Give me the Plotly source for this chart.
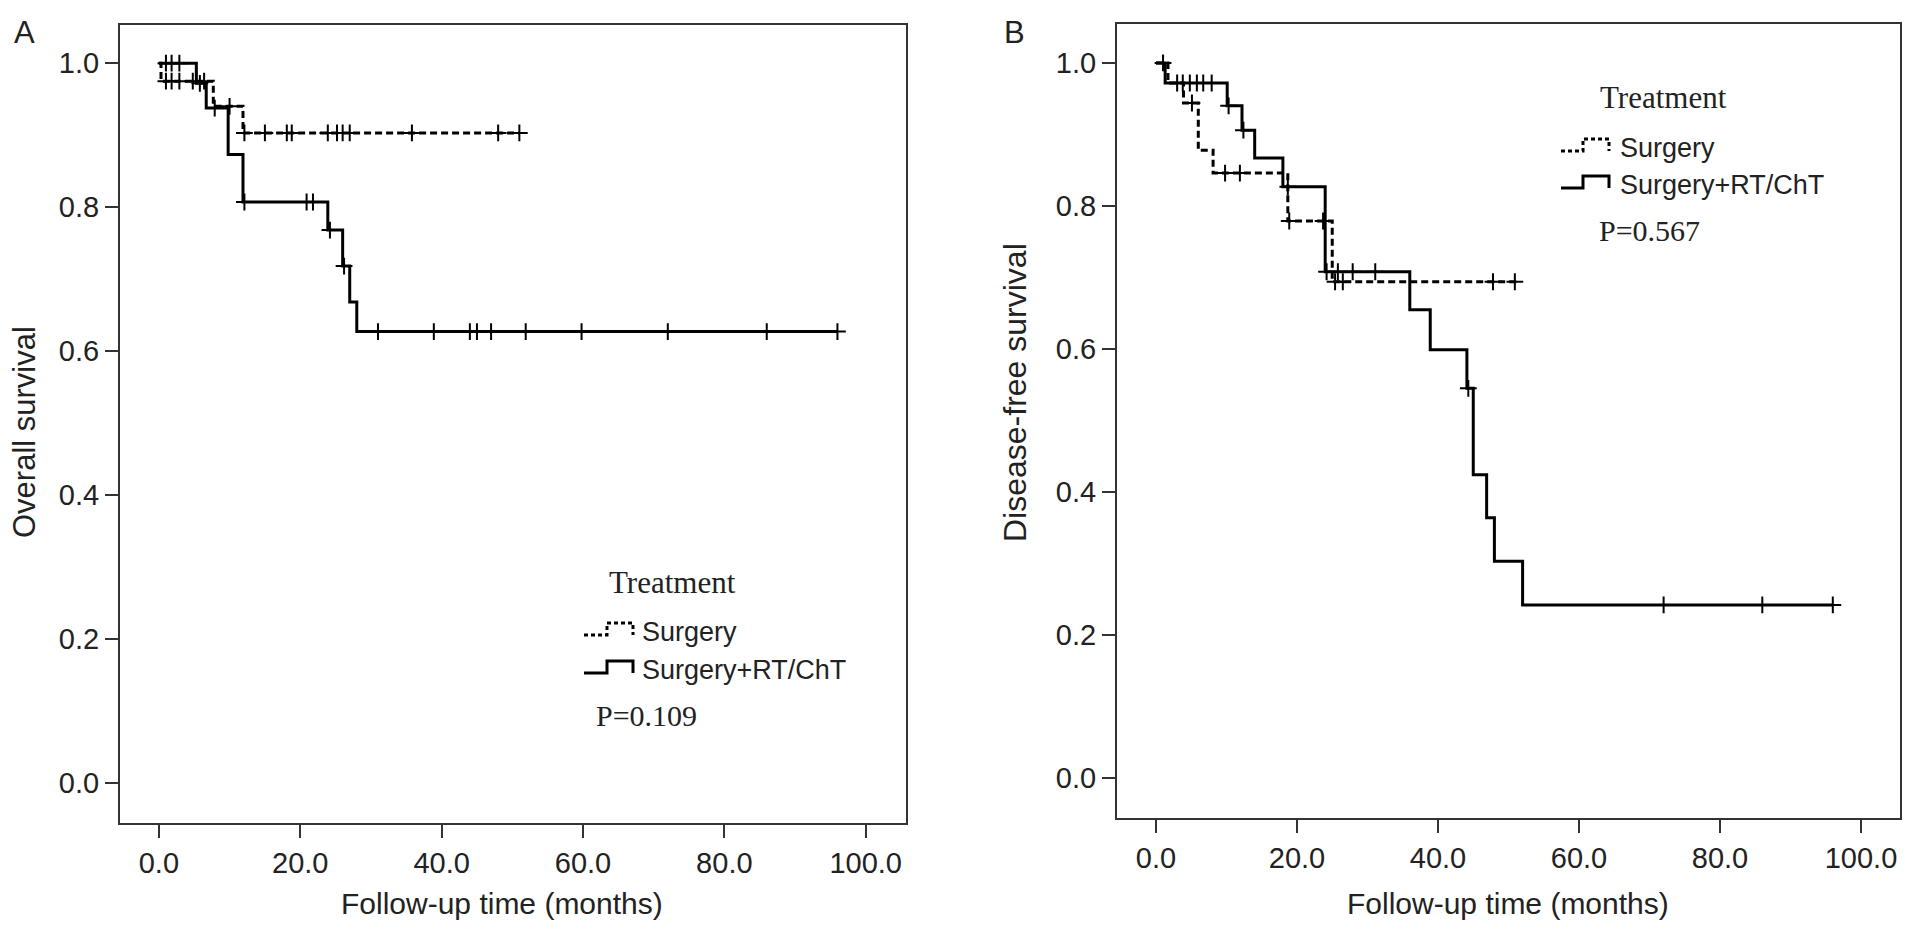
import plotly.graph_objects as go

W, H = 1913, 933

# ---- Panel A: overall survival (months, survival after each event) ----
a_surg_times = [0.3, 7.7, 11.9]
a_surg_surv = [0.975, 0.940, 0.903]
a_surg_cens = [1.0, 1.8, 2.9, 4.8, 6.4, 10.0, 12.1, 15.0, 18.1, 18.8,
               23.9, 25.2, 26.0, 27.0, 35.8, 48.0, 51.0]
a_surg_end = 51.0

a_rt_times = [5.3, 6.7, 9.8, 11.9, 23.9, 26.0, 27.0, 28.0]
a_rt_surv = [0.972, 0.9375, 0.873, 0.807, 0.768, 0.718, 0.668, 0.627]
a_rt_cens = [1.0, 1.8, 2.9, 5.8, 7.9, 12.1, 20.9, 21.8, 24.2, 26.2, 31.0,
             38.9, 44.0, 45.0, 47.0, 51.9, 59.8, 72.0, 86.0, 96.0]
a_rt_end = 96.0

# ---- Panel B: disease-free survival ----
b_surg_times = [1.7, 3.9, 6.0, 8.1, 18.7, 25.0]
b_surg_surv = [0.972, 0.944, 0.878, 0.846, 0.779, 0.694]
b_surg_cens = [1.0, 5.1, 9.8, 11.9, 18.9, 23.7, 25.4, 26.5, 47.8, 50.9]
b_surg_end = 51.6

b_rt_times = [1.3, 10.1, 12.2, 14.0, 18.0, 24.0, 36.0, 38.9, 44.1, 45.0,
              46.9, 48.0, 52.0]
b_rt_surv = [0.972, 0.940, 0.906, 0.867, 0.827, 0.708, 0.655, 0.599, 0.545,
             0.424, 0.364, 0.303, 0.242]
b_rt_cens = [3.0, 3.8, 4.8, 5.8, 6.7, 7.9, 10.3, 12.4, 18.7, 24.2, 25.8,
             27.9, 31.1, 44.3, 72.0, 86.0, 96.0]
b_rt_end = 96.0

x_ticks = [0, 20, 40, 60, 80, 100]
y_ticks = [0.0, 0.2, 0.4, 0.6, 0.8, 1.0]

INK = "#222222"
SANS = "Liberation Sans, Arial, sans-serif"
SERIF = "Liberation Serif, Times New Roman, serif"


def px(x):
    return x / W


def py(y):
    return 1 - y / H


def level_at(t, times, surv):
    s = 1.0
    for ti, si in zip(times, surv):
        if ti <= t:
            s = si
    return s


def km_traces(times, surv, cens, end, dash, xa, ya):
    xs = [0] + times + [end]
    ys = [1.0] + surv + [surv[-1]]
    line = go.Scatter(x=xs, y=ys, mode="lines", line_shape="hv",
                      line=dict(color="black", width=3, dash=dash),
                      xaxis=xa, yaxis=ya, showlegend=False, hoverinfo="skip")
    marks = go.Scatter(x=cens, y=[level_at(c, times, surv) for c in cens],
                       mode="markers",
                       marker=dict(symbol="cross-thin", size=12,
                                   line=dict(color="black", width=2)),
                       xaxis=xa, yaxis=ya, showlegend=False, hoverinfo="skip")
    return [line, marks]


fig = go.Figure()
for tr in (km_traces(a_surg_times, a_surg_surv, a_surg_cens, a_surg_end, "7px,4px", "x", "y")
           + km_traces(a_rt_times, a_rt_surv, a_rt_cens, a_rt_end, "solid", "x", "y")
           + km_traces(b_surg_times, b_surg_surv, b_surg_cens, b_surg_end, "7px,4px", "x2", "y2")
           + km_traces(b_rt_times, b_rt_surv, b_rt_cens, b_rt_end, "solid", "x2", "y2")):
    fig.add_trace(tr)

ax_common = dict(showline=True, mirror=True, linecolor="#333333", linewidth=2,
                 ticks="outside", ticklen=13, tickwidth=2, tickcolor="#333333",
                 showgrid=False, zeroline=False,
                 tickfont=dict(family=SANS, size=29, color=INK))

fig.update_layout(
    width=W, height=H, margin=dict(l=0, r=0, t=0, b=0),
    paper_bgcolor="white", plot_bgcolor="white", showlegend=False,
    xaxis=dict(domain=[px(120), px(906)], range=[-5.5, 105.7],
               tickvals=x_ticks, tickformat=".1f", anchor="y", **ax_common),
    yaxis=dict(domain=[py(823), py(25)], range=[-0.056, 1.053],
               tickvals=y_ticks, tickformat=".1f", anchor="x", **ax_common),
    xaxis2=dict(domain=[px(1117), px(1900)], range=[-5.53, 105.53],
                tickvals=x_ticks, tickformat=".1f", anchor="y2", **ax_common),
    yaxis2=dict(domain=[py(818), py(24)], range=[-0.056, 1.0545],
                tickvals=y_ticks, tickformat=".1f", anchor="x2", **ax_common),
)


def note(text, x, y, size, family=SANS, xanchor="left", angle=0):
    fig.add_annotation(text=text, x=px(x), y=py(y), xref="paper", yref="paper",
                       xanchor=xanchor, yanchor="middle", showarrow=False,
                       textangle=angle, font=dict(family=family, size=size, color=INK))


# panel letters and axis titles
note("A", 24, 33, 31, xanchor="center")
note("B", 1015, 33, 31, xanchor="center")
note("Follow-up time (months)", 502, 903, 30, xanchor="center")
note("Follow-up time (months)", 1508, 903, 30, xanchor="center")
note("Overall survival", 24, 432, 31, xanchor="center", angle=-90)
note("Disease-free survival", 1015, 392, 32, xanchor="center", angle=-90)


def legend_block(x_icon, x_break, x_end, x_text, x_title, x_p, y_title, y_s, y_rt, y_p, p_text):
    note("Treatment", x_title, y_title, 31, family=SERIF)
    note("Surgery", x_text, y_s, 27)
    note("Surgery+RT/ChT", x_text, y_rt, 27)
    note(p_text, x_p, y_p, 30, family=SERIF)
    for yc, dash in ((y_s, "4px,3px"), (y_rt, "solid")):
        lo, hi = py(yc + 3), py(yc - 9)
        path = (f"M {px(x_icon)},{lo} L {px(x_break)},{lo} L {px(x_break)},{hi} "
                f"L {px(x_end)},{hi} L {px(x_end)},{lo}")
        fig.add_shape(type="path", path=path, xref="paper", yref="paper",
                      line=dict(color="black", width=3, dash=dash))


legend_block(584, 607, 633, 640, 607, 594, 582, 632, 670, 715, "P=0.109")
legend_block(1561, 1583, 1609, 1618, 1598, 1597, 97, 148, 185, 230, "P=0.567")

fig.write_html("out.html", config={"displayModeBar": False},
               post_script="document.body.style.margin='0';document.body.style.overflow='hidden';")
